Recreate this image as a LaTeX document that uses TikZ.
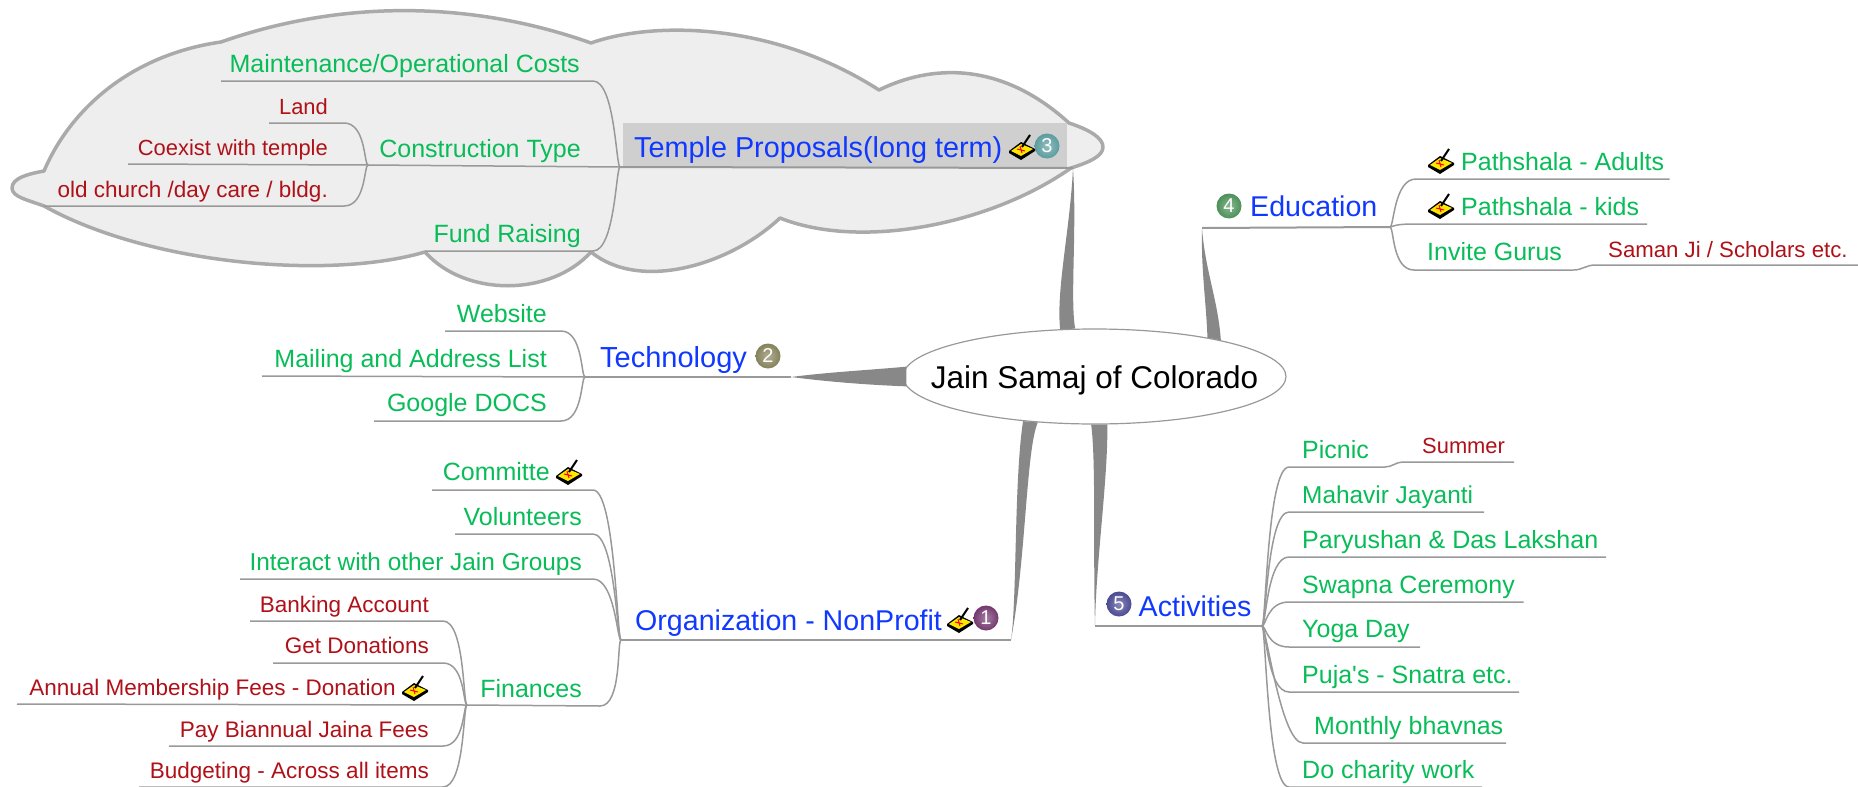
\documentclass[tikz,border=0pt]{standalone}
\usepackage{fontspec}
\usetikzlibrary{shapes.geometric}
\setmainfont{Liberation Sans}
\definecolor{leafgreen}{HTML}{08BC58}
\definecolor{leafred}{HTML}{B01018}
\definecolor{topicblue}{HTML}{1038FF}
\definecolor{linegray}{HTML}{999999}
\definecolor{stemgray}{HTML}{888888}
\definecolor{cloudgray}{HTML}{EEEEEE}
\definecolor{clouddraw}{HTML}{AAAAAA}
\definecolor{boxgray}{HTML}{CFCFCF}
\definecolor{dotone}{HTML}{74386F}
\definecolor{dottwo}{HTML}{84825A}
\definecolor{dotthree}{HTML}{5A9C9E}
\definecolor{dotfour}{HTML}{4C9058}
\definecolor{dotfive}{HTML}{4A4A92}
\begin{document}
\begin{tikzpicture}[
        x=1pt, y=-1pt,
        central/.style={ellipse, draw=linegray, fill=white, line width=1.2pt, minimum width=383pt, minimum height=95pt, inner xsep=-30pt, inner ysep=0pt, font=\fontsize{31.5}{36}\selectfont},
        topic/.style={inner sep=0pt, text=topicblue, font=\fontsize{28.6}{33}\selectfont},
        leaf/.style={inner sep=0pt, text=leafgreen, font=\fontsize{25}{29}\selectfont},
        subleaf/.style={inner sep=0pt, text=leafred, font=\fontsize{22.5}{26}\selectfont},
        numdot/.style={circle, inner sep=0pt, minimum size=25pt, inner color=#1!65!white, outer color=#1, text=white, font=\fontsize{20}{22}\selectfont},
        twig/.style={draw=linegray, line width=1.5pt},
        trunk/.style={draw=linegray, line width=2pt},
        stem/.style={fill=stemgray},
        sweep/.style={out=0, in=180, out min distance=22pt, out max distance=22pt, in min distance=4pt, in max distance=4pt},
        sweepout/.style={out=0, in=180, out min distance=4pt, out max distance=4pt, in min distance=22pt, in max distance=22pt},
        hook/.style={out=0, in=180, looseness=1},
        brushicon/.pic={
            \fill[black] (-12,2) -- (0,-7) -- (14,0) -- (14,2) -- (0,11) -- (-12,4) -- cycle;
            \fill[yellow!90!orange] (-10,2) -- (0,-5) -- (12,0) -- (0,7) -- cycle;
            \draw[red, line width=1pt] (-4,0) -- (4,2) (-1,-3) -- (1,4);
            \draw[black, line width=2pt] (1,-2) -- (5,-8) -- (9,-14);
        },
    ]
        \useasboundingbox (0,0) rectangle (1858,787);

        %Cloud
        \filldraw[fill=cloudgray, draw=clouddraw, line width=3.5pt, line join=round]
            (44,171) .. controls (70,110) and (130,55) .. (221,42)
            .. controls (340,0) and (470,0) .. (591,43)
            .. controls (650,22) and (770,20) .. (879,90)
            .. controls (930,65) and (1000,60) .. (1069,123)
            .. controls (1090,130) and (1103,138) .. (1103,147)
            .. controls (1103,156) and (1090,162) .. (1071,168)
            .. controls (990,225) and (860,250) .. (780,218)
            .. controls (730,265) and (640,292) .. (591,252)
            .. controls (550,297) and (465,297) .. (425,252)
            .. controls (330,280) and (150,265) .. (44,206)
            .. controls (28,200) and (12,197) .. (12,188)
            .. controls (12,178) and (28,174) .. (44,171) -- cycle;
        \fill[boxgray] (623,123) rectangle (1067,167);

        %Nodes
        \node[central] (root) at (1094.5,376.5) {\raisebox{-11.5pt}[0pt][0pt]{Jain Samaj of Colorado}};

        \node[topic, anchor=base west, font=\fontsize{28.8}{33}\selectfont] (temple) at (634,157) {Temple Proposals(long term)};
        \node[numdot=dotthree] (templeNum) at (1047,146) {3};
        \node[topic, anchor=base west, font=\fontsize{29}{33}\selectfont] (technology) at (600,367) {Technology};
        \node[numdot=dottwo] (technologyNum) at (768,356) {2};
        \node[topic, anchor=base west] (organization) at (635,630) {Organization - NonProfit};
        \node[numdot=dotone] (organizationNum) at (986,618) {1};
        \node[topic, anchor=base west] (education) at (1250,216) {Education};
        \node[numdot=dotfour] (educationNum) at (1229,206) {4};
        \node[topic, anchor=base west] (activities) at (1138.5,616) {Activities};
        \node[numdot=dotfive] (activitiesNum) at (1119,604) {5};

        \node[leaf, anchor=base east] (maintenance) at (580,72) {Maintenance/Operational Costs};
        \node[leaf, anchor=base east] (construction) at (581,157) {Construction Type};
        \node[leaf, anchor=base east] (fund) at (581,242) {Fund Raising};
        \node[subleaf, anchor=base east, font=\fontsize{21.9}{26}\selectfont] (land) at (328,114) {Land};
        \node[subleaf, anchor=base east, font=\fontsize{21.9}{26}\selectfont] (coexist) at (328,155) {Coexist with temple};
        \node[subleaf, anchor=base east] (church) at (328,197) {old church /day care / bldg.};

        \node[leaf, anchor=base east] (website) at (547,322) {Website};
        \node[leaf, anchor=base east] (mailing) at (547,367) {Mailing and Address List};
        \node[leaf, anchor=base east] (google) at (547,411) {Google DOCS};

        \node[leaf, anchor=base east] (committe) at (550,480) {Committe};
        \node[leaf, anchor=base east] (volunteers) at (582,525) {Volunteers};
        \node[leaf, anchor=base east, font=\fontsize{24.4}{29}\selectfont] (interact) at (582,570) {Interact with other Jain Groups};
        \node[leaf, anchor=base east] (finances) at (582,697) {Finances};
        \node[subleaf, anchor=base east] (banking) at (429,612) {Banking Account};
        \node[subleaf, anchor=base east] (donations) at (429,653) {Get Donations};
        \node[subleaf, anchor=base east] (annual) at (396,695) {Annual Membership Fees - Donation};
        \node[subleaf, anchor=base east] (biannual) at (429,737) {Pay Biannual Jaina Fees};
        \node[subleaf, anchor=base east] (budgeting) at (429,778) {Budgeting - Across all items};

        \node[leaf, anchor=base west] (adults) at (1461,170) {Pathshala - Adults};
        \node[leaf, anchor=base west] (kids) at (1461,215) {Pathshala - kids};
        \node[leaf, anchor=base west] (gurus) at (1427,260) {Invite Gurus};
        \node[subleaf, anchor=base west, font=\fontsize{22.2}{26}\selectfont] (saman) at (1608,257) {Saman Ji / Scholars etc.};

        \node[leaf, anchor=base west] (picnic) at (1302,458) {Picnic};
        \node[subleaf, anchor=base west, font=\fontsize{21.9}{26}\selectfont] (summer) at (1422,453) {Summer};
        \node[leaf, anchor=base west, font=\fontsize{24.4}{29}\selectfont] (mahavir) at (1302,503) {Mahavir Jayanti};
        \node[leaf, anchor=base west] (paryushan) at (1302,548) {Paryushan \& Das Lakshan};
        \node[leaf, anchor=base west] (swapna) at (1302,593) {Swapna Ceremony};
        \node[leaf, anchor=base west] (yoga) at (1302,637) {Yoga Day};
        \node[leaf, anchor=base west] (puja) at (1302,683) {Puja\textquotesingle s - Snatra etc.};
        \node[leaf, anchor=base west] (monthly) at (1314,734) {Monthly bhavnas};
        \node[leaf, anchor=base west] (charity) at (1302,778) {Do charity work};

        %Icons
        \pic at (1021,149) {brushicon};
        \pic at (959,622) {brushicon};
        \pic at (568,474) {brushicon};
        \pic at (414,690) {brushicon};
        \pic at (1440,163) {brushicon};
        \pic at (1440,208) {brushicon};

        %Joints
        \coordinate (templeJ) at (620,167);
        \coordinate (templeC) at (1073,168);
        \coordinate (constructionJ) at (368,165);
        \coordinate (technologyJ) at (585,377);
        \coordinate (technologyC) at (791,377);
        \coordinate (organizationJ) at (621,640);
        \coordinate (organizationC) at (1011,640);
        \coordinate (financesJ) at (467,705);
        \coordinate (educationJ) at (1390,227);
        \coordinate (educationC) at (1202,228);
        \coordinate (activitiesJ) at (1262,626);
        \coordinate (activitiesC) at (1095,626);

        \coordinate (maintenanceA) at (221,81);
        \coordinate (maintenanceB) at (593,81);
        \coordinate (fundA) at (425,251);
        \coordinate (fundB) at (593,251);
        \coordinate (landA) at (269,123);
        \coordinate (landB) at (344,123);
        \coordinate (coexistA) at (128,164);
        \coordinate (churchA) at (44,206);
        \coordinate (churchB) at (344,206);

        \coordinate (websiteA) at (445,331);
        \coordinate (websiteB) at (561,331);
        \coordinate (mailingA) at (262,376);
        \coordinate (googleA) at (374,421);
        \coordinate (googleB) at (561,421);

        \coordinate (committeA) at (432,490);
        \coordinate (committeB) at (593,490);
        \coordinate (volunteersA) at (455,534);
        \coordinate (volunteersB) at (593,534);
        \coordinate (interactA) at (240,579);
        \coordinate (interactB) at (593,579);
        \coordinate (financesB) at (600,706);
        \coordinate (bankingA) at (250,621);
        \coordinate (bankingB) at (443,621);
        \coordinate (donationsA) at (273,663);
        \coordinate (donationsB) at (443,663);
        \coordinate (annualA) at (17,704);
        \coordinate (biannualA) at (169,746);
        \coordinate (biannualB) at (443,746);
        \coordinate (budgetingA) at (139,787);
        \coordinate (budgetingB) at (443,787);

        \coordinate (adultsA) at (1416,179);
        \coordinate (adultsB) at (1669.5,179);
        \coordinate (kidsA) at (1414,224);
        \coordinate (kidsB) at (1647,224);
        \coordinate (gurusA) at (1414,270);
        \coordinate (gurusB) at (1573.5,270);
        \coordinate (samanA) at (1595,265);
        \coordinate (samanB) at (1858,265);

        \coordinate (picnicA) at (1289,467);
        \coordinate (picnicB) at (1385,467);
        \coordinate (summerA) at (1403,462);
        \coordinate (summerB) at (1514,462);
        \coordinate (mahavirA) at (1289,512);
        \coordinate (mahavirB) at (1484,512);
        \coordinate (paryushanA) at (1289,557);
        \coordinate (paryushanB) at (1606,557);
        \coordinate (swapnaA) at (1289,602);
        \coordinate (swapnaB) at (1523.5,602);
        \coordinate (yogaA) at (1289,647);
        \coordinate (yogaB) at (1420,647);
        \coordinate (pujaA) at (1289,692);
        \coordinate (pujaB) at (1519,692);
        \coordinate (monthlyA) at (1303,743);
        \coordinate (monthlyB) at (1506,743);
        \coordinate (charityA) at (1289,787);
        \coordinate (charityB) at (1482,787);

        %Stems
        \fill[stem] (templeC) .. controls (1070,230) and (1056,290) .. (root.126) -- (root.112) .. controls (1070,300) and (1077,230) .. (templeC) -- cycle;
        \fill[stem] (technologyC) .. controls (830,372) and (870,370) .. (root.177) -- (root.183) .. controls (870,385) and (830,382) .. (technologyC) -- cycle;
        \fill[stem] (organizationC) .. controls (1017,600) and (1014,480) .. (root.212) -- (root.219) .. controls (1026,450) and (1026,560) .. (organizationC) -- cycle;
        \fill[stem] (educationC) .. controls (1205,270) and (1218,300) .. (root.16) -- (root.19) .. controls (1206,300) and (1201,270) .. (educationC) -- cycle;
        \fill[stem] (activitiesC) .. controls (1093,550) and (1096,460) .. (root.266) -- (root.285) .. controls (1108,480) and (1096,560) .. (activitiesC) -- cycle;

        %Lines
        \draw[trunk] (templeJ) -- (templeC);
        \draw[trunk] (technologyJ) -- (technologyC);
        \draw[trunk] (organizationJ) -- (organizationC);
        \draw[trunk] (educationJ) -- (educationC);
        \draw[trunk] (activitiesJ) -- (activitiesC);

        \draw[twig] (maintenanceA) -- (maintenanceB) to[sweep] (templeJ);
        \draw[twig] (constructionJ) -- (templeJ);
        \draw[twig] (fundA) -- (fundB) to[sweep] (templeJ);
        \draw[twig] (landA) -- (landB) to[sweep] (constructionJ);
        \draw[twig] (coexistA) -- (constructionJ);
        \draw[twig] (churchA) -- (churchB) to[sweep] (constructionJ);

        \draw[twig] (websiteA) -- (websiteB) to[sweep] (technologyJ);
        \draw[twig] (mailingA) -- (technologyJ);
        \draw[twig] (googleA) -- (googleB) to[sweep] (technologyJ);

        \draw[twig] (committeA) -- (committeB) to[sweep] (organizationJ);
        \draw[twig] (volunteersA) -- (volunteersB) to[sweep] (organizationJ);
        \draw[twig] (interactA) -- (interactB) to[sweep] (organizationJ);
        \draw[twig] (financesJ) -- (financesB) to[sweep] (organizationJ);
        \draw[twig] (bankingA) -- (bankingB) to[sweep] (financesJ);
        \draw[twig] (donationsA) -- (donationsB) to[sweep] (financesJ);
        \draw[twig] (annualA) -- (financesJ);
        \draw[twig] (biannualA) -- (biannualB) to[sweep] (financesJ);
        \draw[twig] (budgetingA) -- (budgetingB) to[sweep] (financesJ);

        \draw[twig] (educationJ) to[sweepout] (adultsA) -- (adultsB);
        \draw[twig] (educationJ) to[sweepout] (kidsA) -- (kidsB);
        \draw[twig] (educationJ) to[sweepout] (gurusA) -- (gurusB);
        \draw[twig] (gurusB) to[hook] (samanA) -- (samanB);

        \draw[twig] (activitiesJ) to[sweepout] (picnicA) -- (picnicB);
        \draw[twig] (picnicB) to[hook] (summerA) -- (summerB);
        \draw[twig] (activitiesJ) to[sweepout] (mahavirA) -- (mahavirB);
        \draw[twig] (activitiesJ) to[sweepout] (paryushanA) -- (paryushanB);
        \draw[twig] (activitiesJ) to[sweepout] (swapnaA) -- (swapnaB);
        \draw[twig] (activitiesJ) to[sweepout] (yogaA) -- (yogaB);
        \draw[twig] (activitiesJ) to[sweepout] (pujaA) -- (pujaB);
        \draw[twig] (activitiesJ) to[sweepout] (monthlyA) -- (monthlyB);
        \draw[twig] (activitiesJ) to[sweepout] (charityA) -- (charityB);
    \end{tikzpicture}
\end{document}
